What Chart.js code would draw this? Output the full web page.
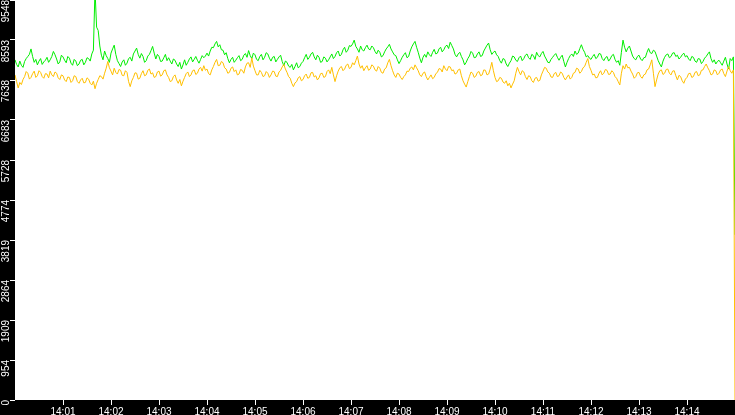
<!DOCTYPE html>
<html>
<head>
<meta charset="utf-8">
<script src="https://cdn.jsdelivr.net/npm/chart.js@4"></script>
<style>
  html, body { margin: 0; padding: 0; background: #000; }
  canvas { display: block; }
</style>
</head>
<body>
<canvas id="myChart" width="735" height="415"></canvas>
<script>
// samples every 2 s, starting 14:00:00
var startSec = 0;
var stepSec = 2;

var greenValues = [
  8120,8010,7950,8090,7990,7940,8080,8150,8200,8250,8380,8200,8060,8130,8000,8090,8150,8010,8070,8110,
  8180,8060,8120,8200,8320,8240,8140,8020,8070,8230,8190,8110,8050,8200,8160,8040,7990,8130,8090,7980,
  8020,8110,8130,8000,8060,8170,8150,8090,8260,8350,9800,8900,8820,8450,8230,8120,8330,8220,8150,8060,
  8280,8380,8470,8250,8100,8030,7960,8070,8120,7990,8040,8150,8180,8090,8260,8330,8400,8250,8160,8270,
  8200,8060,8100,8210,8250,8340,8440,8280,8140,8250,8200,8080,8090,8170,8250,8100,8170,8090,8020,8140,
  8110,8020,7960,8060,7900,8000,8120,7990,8060,8140,8190,8070,8130,8200,8110,8040,8130,8220,8170,8210,
  8280,8210,8330,8420,8410,8500,8560,8430,8480,8360,8350,8240,8290,8150,8050,8130,8180,8060,8110,8170,
  8220,8100,8130,8230,8270,8180,8340,8220,8150,8280,8240,8130,8100,8200,8250,8120,8180,8290,8260,8160,
  8090,8180,8200,8070,8130,8190,8230,8080,7980,8090,8060,7970,7940,8010,7880,7960,8050,7930,7960,8040,
  8080,8170,8250,8130,8180,8260,8300,8190,8120,8230,8180,8060,8080,8190,8160,8070,8120,8190,8260,8150,
  8200,8290,8330,8210,8250,8360,8420,8300,8350,8460,8440,8500,8590,8440,8380,8300,8450,8360,8330,8410,
  8470,8380,8360,8450,8410,8320,8260,8350,8300,8190,8220,8310,8380,8430,8490,8380,8310,8240,8220,8120,
  8030,8100,8180,8240,8290,8170,8200,8330,8430,8500,8560,8420,8300,8160,8050,8180,8250,8180,8310,8240,
  8200,8300,8370,8260,8280,8380,8420,8310,8360,8440,8470,8390,8540,8460,8380,8250,8190,8260,8300,8200,
  8120,8000,8060,8150,8210,8320,8280,8170,8180,8260,8310,8200,8220,8330,8400,8470,8520,8360,8250,8300,
  8330,8240,8200,8100,8040,8150,8130,8020,7960,8040,8100,8210,8190,8110,8080,8170,8210,8100,8150,8230,
  8260,8170,8130,8250,8220,8130,8300,8220,8190,8270,8320,8210,8140,8060,8050,8130,8180,8230,8270,8180,
  8110,8180,8230,8080,7950,8060,8150,8220,8260,8200,8330,8250,8280,8390,8480,8370,8300,8190,8220,8160,
  8130,8200,8250,8150,8180,8270,8260,8150,8100,8170,8200,8090,8140,8220,8250,8130,8060,8100,7990,8300,
  8590,8420,8310,8400,8450,8330,8210,8150,8120,8200,8230,8140,8100,8170,8180,8300,8390,8290,8270,8350,
  8320,8210,8100,8020,7950,8090,8180,8240,8260,8170,8200,8280,8290,8200,8230,8140,8180,8240,8280,8190,
  8220,8140,8100,8200,8180,8090,8060,8150,8140,8030,8080,8160,8200,8260,8310,8150,8060,8120,8020,8080,
  8110,8050,7990,8090,8180,8020,7900,8150,8100,8190
];

var orangeValues = [
  7760,7600,7450,7580,7530,7650,7720,7840,7800,7660,7700,7790,7850,7700,7740,7860,7820,7720,7680,7790,
  7780,7690,7850,7760,7720,7830,7800,7690,7650,7760,7740,7640,7600,7710,7700,7580,7620,7740,7720,7600,
  7560,7640,7680,7570,7580,7690,7660,7560,7520,7610,7430,7560,7650,7740,7720,7660,7800,7920,8080,7930,
  7850,7760,7920,7820,7780,7890,7870,7750,7740,7860,7820,7600,7480,7620,7700,7810,7800,7660,7680,7790,
  7860,7740,7760,7870,7900,7780,7810,7700,7720,7830,7850,7730,7760,7860,7880,7760,7700,7600,7620,7720,
  7760,7640,7560,7650,7500,7610,7700,7790,7830,7720,7760,7860,7880,7770,7800,7900,7940,7850,7980,7870,
  7900,7790,7760,7880,7960,8060,8130,7980,7990,8080,8050,7930,7900,7800,7820,7920,7950,7840,7880,7760,
  7780,7890,7870,7800,7950,8040,8050,7940,8160,7970,7860,7760,7760,7870,7820,7720,7740,7840,7800,7700,
  7760,7850,7840,7730,7720,7830,7870,7950,8010,7900,7820,7720,7680,7560,7480,7570,7600,7690,7720,7620,
  7650,7740,7780,7680,7700,7810,7820,7710,7740,7640,7690,7790,7800,7700,7720,7840,7880,7790,7940,7760,
  7600,7740,7850,7930,7960,7860,7900,7990,8020,7910,7940,8050,8000,8100,8210,8020,7920,7980,7860,7930,
  7980,7870,7900,8000,7970,7880,7850,7960,7920,7820,7800,7900,7930,8050,8130,7980,7860,7760,7700,7800,
  7780,7700,7650,7720,7760,7850,7840,7920,7950,7880,8000,7930,7860,7760,7720,7800,7830,7720,7640,7700,
  7760,7670,7700,7790,7820,7910,7900,7830,7980,7900,7860,7960,7950,7860,7880,7780,7800,7880,7900,7740,
  7620,7540,7470,7600,7720,7830,7800,7700,7730,7820,7840,7740,7760,7880,7870,7760,7780,7900,8060,7860,
  7700,7600,7620,7700,7680,7590,7560,7620,7500,7560,7450,7540,7620,7800,7940,7840,7760,7860,7830,7720,
  7650,7740,7720,7620,7580,7680,7700,7610,7630,7760,7850,7940,7920,7830,7800,7710,7700,7790,7820,7720,
  7740,7830,7800,7700,7640,7710,7760,7660,7700,7800,7820,7920,7900,7800,7840,7930,7960,8060,8150,7960,
  7870,7760,7780,7690,7700,7800,7860,7760,7800,7890,7870,7770,7780,7860,7820,7720,7680,7600,7520,7800,
  7980,7900,8020,7930,7940,7850,7780,7680,7720,7810,7820,7720,7680,7760,7780,7880,7900,8000,8120,7800,
  7480,7640,7780,7860,7880,7770,7800,7890,7900,7800,7760,7850,7860,7740,7640,7750,7720,7620,7560,7660,
  7700,7790,7800,7700,7720,7820,7840,7740,7760,7870,7880,7960,8020,7930,7860,7760,7780,7880,7860,7760,
  7800,7880,7900,7790,7720,7850,7960,7860,7800,7880
];

// last reading at the right edge, where both series fall away
var greenLast = 3944;
var orangeLast = 0;

var yMax = 9548;
var yStep = 954.8;
var xMax = 900;
var xTickLabels = ["14:01","14:02","14:03","14:04","14:05","14:06","14:07",
                   "14:08","14:09","14:10","14:11","14:12","14:13","14:14"];

function toPoints(values, last) {
  var pts = values.map(function (v, i) {
    return { x: startSec + i * stepSec, y: v };
  });
  pts.push({ x: xMax, y: last });
  return pts;
}

// black frame round a white plot area
const frame = {
  id: "frame",
  beforeDraw(chart) {
    const ctx = chart.ctx;
    const a = chart.chartArea;
    ctx.save();
    ctx.fillStyle = "#000";
    ctx.fillRect(0, 0, chart.width, chart.height);
    ctx.fillStyle = "#fff";
    ctx.fillRect(a.left, a.top, a.right - a.left, a.bottom - a.top);
    ctx.restore();
  },
};

function noPad(scale) {
  scale.paddingTop = 0;
  scale.paddingBottom = 0;
  scale.paddingLeft = 0;
  scale.paddingRight = 0;
}

const ctx = document.getElementById("myChart");
new Chart(ctx, {
  type: "line",
  data: {
    datasets: [
      {
        label: "orange",
        data: toPoints(orangeValues, orangeLast),
        borderColor: "#ffc000",
        borderWidth: 1,
        pointRadius: 0,
        tension: 0,
      },
      {
        label: "green",
        data: toPoints(greenValues, greenLast),
        borderColor: "#00ee00",
        borderWidth: 1,
        pointRadius: 0,
        tension: 0,
      },
    ],
  },
  options: {
    responsive: false,
    animation: false,
    events: [],
    layout: { padding: 0 },
    plugins: {
      legend: { display: false },
      tooltip: { enabled: false },
    },
    scales: {
      x: {
        type: "linear",
        min: 0,
        max: xMax,
        afterBuildTicks(scale) {
          scale.ticks = scale.ticks.filter(function (t) {
            return t.value > 0 && t.value < xMax;
          });
        },
        afterFit(scale) {
          scale.height = 15;
          noPad(scale);
        },
        ticks: {
          stepSize: 60,
          autoSkip: false,
          maxRotation: 0,
          padding: 1,
          color: "#fff",
          font: { family: "Liberation Sans", size: 10 },
          callback: function (value) {
            return xTickLabels[Math.round(value / 60) - 1];
          },
        },
        grid: {
          drawOnChartArea: false,
          drawTicks: true,
          tickLength: 5,
          tickColor: "#fff",
        },
        border: { display: false },
      },
      y: {
        min: 0,
        max: yMax,
        afterFit(scale) {
          scale.width = 15;
          noPad(scale);
        },
        ticks: {
          stepSize: yStep,
          autoSkip: false,
          minRotation: 90,
          maxRotation: 90,
          padding: 4,
          color: "#fff",
          font: { family: "Liberation Sans", size: 10 },
          callback: function (value) {
            return Math.floor(value + 0.001);
          },
        },
        grid: {
          drawOnChartArea: false,
          drawTicks: true,
          tickLength: 5,
          tickColor: "#fff",
        },
        border: { display: false },
      },
    },
  },
  plugins: [frame],
});
</script>
</body>
</html>
